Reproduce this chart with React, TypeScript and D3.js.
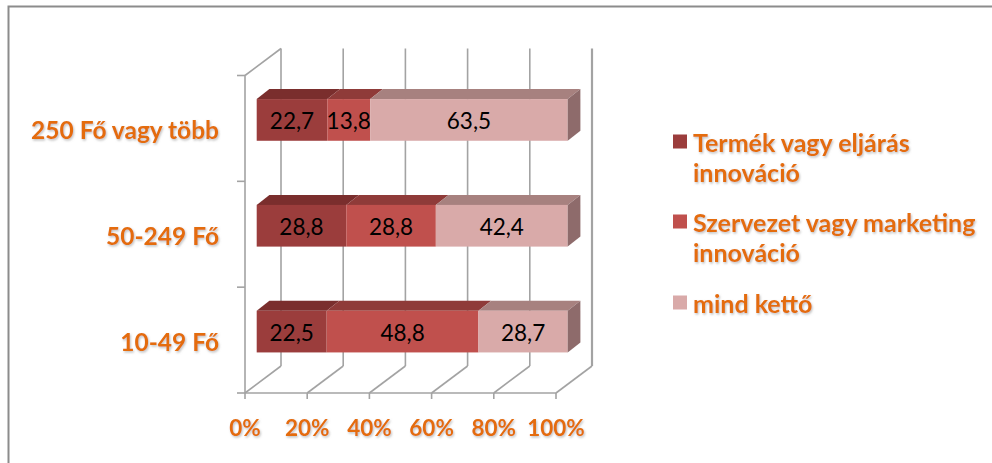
import React from "react";
import * as d3 from "d3";

const categories = ["250 Fő vagy több", "50-249 Fő", "10-49 Fő"];
const seriesNames = ["Termék vagy eljárás innováció", "Szervezet vagy marketing innováció", "mind kettő"];
const legendLines = [["Termék vagy eljárás", "innováció"], ["Szervezet vagy marketing", "innováció"], ["mind kettő"]];
const termek = [22.7, 28.8, 22.5];
const szervezet = [13.8, 28.8, 48.8];
const mindketto = [63.5, 42.4, 28.7];
const xTicks = [0, 20, 40, 60, 80, 100];

const frontColors = ["#9B3D3C", "#C0504D", "#D9AAA9"];
const topColors = ["#7A2E2D", "#8F3B39", "#A7817F"];
const sideColors = ["#6E2A29", "#8A3A38", "#8E6B6B"];

const W = 992, H = 463;
const ORANGE = "#E46C0A";
const GRID = "#A3A3A3";
const FONT = "Lato, 'Open Sans', sans-serif";

export default function App() {
  const fx = d3.scaleLinear().domain([0, 100]).range([245, 556]);
  const band = d3.scaleBand<string>().domain(categories).range([75.5, 393]).padding(0);
  const DX = 36, DY = 27;
  const barOffX = 11.7, barOffY = 8.5, barH = 41.7;
  const bdx = 12.7, bdy = 10;
  const top = 75.5, bottom = 393;

  const values = [termek, szervezet, mindketto];
  const fmt = (v: number) => v.toFixed(1).replace(".", ",");

  const bars: React.ReactNode[] = [];
  categories.forEach((c, ci) => {
    const cy = (band(c) as number) + band.bandwidth() / 2 - barOffY;
    const y0 = cy - barH / 2, y1 = cy + barH / 2;
    let cum = 0;
    values.forEach((arr, si) => {
      const v = arr[ci];
      const xa = fx(cum) + barOffX, xb = fx(cum + v) + barOffX;
      cum += v;
      const topPts = [[xa, y0], [xb, y0], [xb + bdx, y0 - bdy], [xa + bdx, y0 - bdy]];
      bars.push(
        <polygon key={`t${ci}${si}`} points={topPts.map(p => p.join(",")).join(" ")} fill={topColors[si]} />
      );
      bars.push(
        <rect key={`f${ci}${si}`} x={xa} y={y0} width={xb - xa} height={barH} fill={frontColors[si]} />
      );
      if (si === values.length - 1) {
        const sidePts = [[xb, y0], [xb + bdx, y0 - bdy], [xb + bdx, y1 - bdy], [xb, y1]];
        bars.push(
          <polygon key={`s${ci}${si}`} points={sidePts.map(p => p.join(",")).join(" ")} fill={sideColors[si]} />
        );
      }
      bars.push(
        <text key={`l${ci}${si}`} x={(xa + xb) / 2} y={cy + 1} textAnchor="middle" dominantBaseline="central"
          fontFamily={FONT} fontSize={22.5} fill="#000">{fmt(v)}</text>
      );
    });
  });

  return (
    <svg width={W} height={H} style={{ position: "absolute", left: 0, top: 0 }}>
      <defs>
        <filter id="sh" x="-10%" y="-30%" width="120%" height="160%">
          <feDropShadow dx="1" dy="1.5" stdDeviation="1.3" floodColor="#8a8a8a" floodOpacity="0.55" />
        </filter>
      </defs>
      <rect x={0} y={0} width={W} height={H} fill="#fff" />
      <path d={`M8.5,${H} V6.5 H${W}`} fill="none" stroke="#8c8c8c" strokeWidth={2} />

      {/* back wall gridlines */}
      {xTicks.map(t => (
        <line key={`g${t}`} x1={fx(t) + DX} x2={fx(t) + DX} y1={top - DY} y2={bottom - DY} stroke={GRID} strokeWidth={t === 100 ? 2.2 : 1.6} />
      ))}
      {/* floor diagonals */}
      {xTicks.map(t => (
        <line key={`d${t}`} x1={fx(t)} x2={fx(t) + DX} y1={bottom} y2={bottom - DY} stroke={GRID} strokeWidth={1.6} />
      ))}
      {/* left wall top */}
      <line x1={fx(0)} y1={top} x2={fx(0) + DX} y2={top - DY} stroke={GRID} strokeWidth={1.6} />
      {/* floor front edge */}
      <line x1={fx(0)} x2={fx(100)} y1={bottom} y2={bottom} stroke={GRID} strokeWidth={1.6} />
      {/* x ticks */}
      {xTicks.map(t => (
        <line key={`xt${t}`} x1={fx(t)} x2={fx(t)} y1={bottom} y2={bottom + 6} stroke={GRID} strokeWidth={1.6} />
      ))}
      {/* y axis */}
      <line x1={fx(0)} x2={fx(0)} y1={top} y2={bottom} stroke={GRID} strokeWidth={1.6} />
      {[0, 1, 2, 3].map(i => {
        const y = top + i * band.bandwidth();
        return <line key={`yt${i}`} x1={fx(0) - 8} x2={fx(0)} y1={y} y2={y} stroke={GRID} strokeWidth={1.6} />;
      })}

      {bars}

      {/* category labels */}
      {categories.map(c => (
        <text key={c} x={219} y={(band(c) as number) + band.bandwidth() / 2 + 1} textAnchor="end" dominantBaseline="central"
          fontFamily={FONT} fontWeight="bold" fontSize={24.5} fill={ORANGE} filter="url(#sh)">{c}</text>
      ))}
      {/* x tick labels */}
      {xTicks.map(t => (
        <text key={`xl${t}`} x={fx(t)} y={427} textAnchor="middle" dominantBaseline="central"
          fontFamily={FONT} fontWeight="bold" fontSize={22.5} fill={ORANGE} filter="url(#sh)">{`${t}%`}</text>
      ))}
      {/* legend */}
      {seriesNames.map((s, i) => {
        const ys = [141.5, 221.5, 302.5][i];
        return (
          <g key={s}>
            <rect x={673} y={ys - 7} width={14} height={14} fill={frontColors[i]} />
            {legendLines[i].map((ln, li) => (
              <text key={li} x={693} y={ys + li * 30} dominantBaseline="central" fontFamily={FONT}
                fontWeight="bold" fontSize={25} fill={ORANGE} filter="url(#sh)">{ln}</text>
            ))}
          </g>
        );
      })}
    </svg>
  );
}
